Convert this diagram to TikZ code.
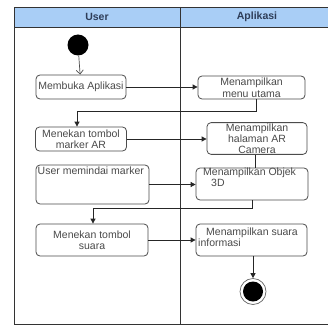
\documentclass[tikz,border=0pt]{standalone}
\usepackage{fontspec}
\setmainfont{Liberation Sans}
\usetikzlibrary{arrows.meta}
\definecolor{headblue}{HTML}{A9CEF6}
\definecolor{headtext}{HTML}{2E3D58}
\definecolor{txt}{HTML}{4A4A4A}
\begin{document}
\begin{tikzpicture}[x=1pt,y=-1pt,
  act/.style={draw=black!70, rounded corners=4pt, line width=0.8pt,
    font=\fontsize{10.5}{11.5}\selectfont, text=txt, align=center, inner sep=1pt},
  lbl/.style={font=\fontsize{10.5}{11.5}\selectfont, text=txt, inner sep=0pt},
  head/.style={font=\bfseries\fontsize{10.5}{12}\selectfont, text=headtext},
  flow/.style={draw=black!85, line width=0.8pt, -{Triangle[length=5pt,width=5pt]}},
  wire/.style={draw=black!85, line width=0.8pt}]
\useasboundingbox (0,0) rectangle (328,326);
\clip (0,0) rectangle (328,326);
\fill[white] (0,0) rectangle (328,326);
% swimlane frame
\fill[headblue] (14,7) rectangle (340,27);
\draw[black!80, line width=0.8pt] (14,7) rectangle (340,324);
\draw[black!80, line width=0.8pt] (14,27) -- (340,27);
\draw[black!80, line width=0.8pt] (180,7) -- (180,324);
\node[head] (hu) at (97,17) {User};
\node[head] (ha2) at (257,17) {Aplikasi};
% start / end
\node[circle, fill=black, minimum size=21pt, inner sep=0pt] (st) at (78,45) {};
\node[circle, draw=black!60, fill=white, minimum size=26pt, inner sep=0pt, line width=0.7pt] (en) at (253,291.5) {};
\node[circle, fill=black, minimum size=20pt, inner sep=0pt] (enin) at (en.center) {};
% activities
\node[act, minimum width=90pt, minimum height=24pt] (mb) at (81,87) {Membuka Aplikasi};
\node[act, minimum width=107pt, minimum height=23pt] (mu) at (251.5,87.5) {Menampilkan\\menu utama};
\node[act, minimum width=91pt, minimum height=24pt] (mt) at (81,139) {Menekan tombol\\marker AR};
\node[act, minimum width=100pt, minimum height=31pt, font=\fontsize{10.5}{11}\selectfont] (ha) at (257,138.5) {Menampilkan\\halaman AR\\Camera};
\node[act, minimum width=113pt, minimum height=39pt] (um) at (92.5,184.5) {};
\node[lbl, anchor=north west] (umt) at (37.5,167) {User memindai marker};
\node[act, minimum width=112pt, minimum height=32pt] (ob) at (252,184) {};
\node[lbl, anchor=north west, align=left] (obt) at (203,167.5) {Menampilkan Objek\\\hspace{8pt}3D};
\node[act, minimum width=112pt, minimum height=32pt] (ms) at (92,240) {Menekan tombol\\suara};
\node[act, minimum width=111pt, minimum height=32pt] (si) at (251.5,240) {};
\node[lbl, anchor=north west, align=left] (sit) at (198,227.5) {\hspace{8pt}Menampilkan suara\\informasi};
% connectors
\draw[black!70, line width=0.7pt, -{Straight Barb[length=4pt,width=7pt]}] (st) -- (mb);
\draw[flow] (mb.east) -- (mb.east -| mu.west);
\draw[flow] ([xshift=4.5pt]mu.south) -- ++(0,12) -| ([xshift=-4pt]mt.north);
\draw[flow] (mt.east) -- (mt.east -| ha.west);
\draw[wire] ([xshift=-2pt]ha.south) -- ([xshift=-2pt]ha.south |- ob.north);
\draw[flow] (um.east) -- (um.east -| ob.west);
\draw[flow] (ob.south) -- ++(0,8) -| ([xshift=1pt]ms.north);
\draw[flow] (ms.east) -- (ms.east -| si.west);
\draw[flow] ([xshift=1.5pt]si.south) -- (en.north);
\end{tikzpicture}
\end{document}
